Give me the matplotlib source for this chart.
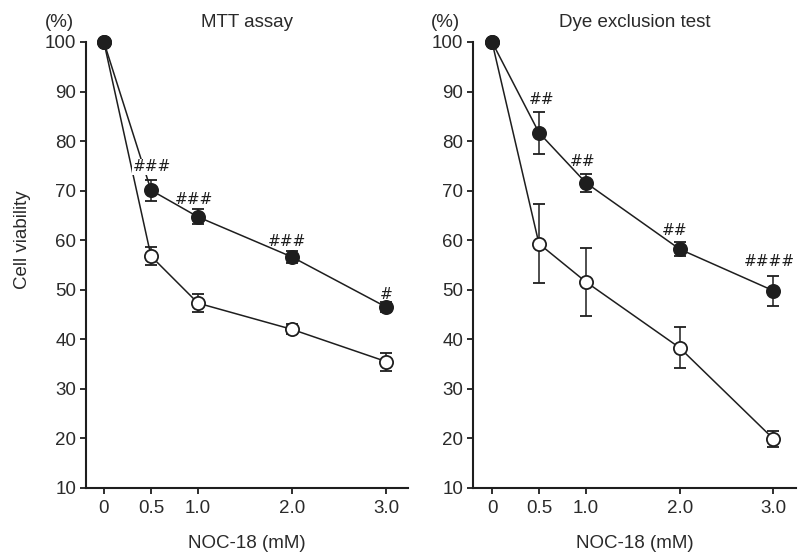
import matplotlib
matplotlib.use("Agg")
import matplotlib.pyplot as plt

plt.rcParams['font.family'] = ['Liberation Sans', 'DejaVu Sans']

# NOC-18 concentrations (mM)
conc = [0, 0.5, 1.0, 2.0, 3.0]
xtick_labels = ["0", "0.5", "1.0", "2.0", "3.0"]
yticks = [10, 20, 30, 40, 50, 60, 70, 80, 90, 100]

# MTT assay: cell viability (%) with error
mtt_filled = [100, 70.1, 64.7, 56.6, 46.5]
mtt_filled_err = [0, 2.1, 1.5, 1.2, 1.0]
mtt_open = [100, 56.8, 47.3, 42.0, 35.5]
mtt_open_err = [0, 1.8, 1.8, 1.0, 1.8]
mtt_marks = ["###", "###", "###", "#"]
mtt_mark_xy = [(0.51, 74.8), (0.96, 68.3), (1.95, 59.7), (3.0, 49.0)]

# Dye exclusion test: cell viability (%) with error
dye_filled = [100, 81.7, 71.6, 58.2, 49.8]
dye_filled_err = [0, 4.2, 1.8, 1.4, 3.0]
dye_open = [100, 59.3, 51.6, 38.3, 19.9]
dye_open_err = [0, 8.0, 6.9, 4.1, 1.7]
dye_marks = ["##", "##", "##", "####"]
dye_mark_xy = [(0.53, 88.3), (0.97, 75.9), (1.95, 62.0), (2.96, 55.7)]

ink = "#1e1e1e"
txt = "#2a2a2a"
fs = 13.5
fig = plt.figure(figsize=(7.98, 5.53), dpi=100)
ax1 = fig.add_axes([86/798, 1-488/553, 322/798, 446/553])
ax2 = fig.add_axes([473/798, 1-488/553, 323/798, 446/553])


def panel(ax, title, filled, ferr, opn, oerr, marks, mark_xy, xlim, cover_first):
    common = dict(color=ink, lw=1.1, capsize=4, elinewidth=1.1, capthick=1.1,
                  markersize=9.5, markeredgewidth=1.3, clip_on=False)
    ax.errorbar(conc, opn, yerr=oerr, marker='o', markerfacecolor='white',
                markeredgecolor=ink, zorder=3, **common)
    ax.errorbar(conc, filled, yerr=ferr, marker='o', markerfacecolor=ink,
                markeredgecolor=ink, zorder=4, **common)
    for i, (lab, (x, y)) in enumerate(zip(marks, mark_xy)):
        kw = {}
        if cover_first and i == 0:
            kw['bbox'] = dict(facecolor='white', edgecolor='none', pad=0.5)
        ax.text(x, y, lab, ha='center', va='center', fontsize=11,
                family=['DejaVu Sans'], style='italic', color=ink,
                zorder=5, **kw)
    ax.set_xlim(*xlim)
    ax.set_ylim(10, 100)
    ax.set_xticks(conc)
    ax.set_xticklabels(xtick_labels)
    ax.set_yticks(yticks)
    for s in ('top', 'right'):
        ax.spines[s].set_visible(False)
    for s in ('left', 'bottom'):
        ax.spines[s].set_linewidth(1.5)
        ax.spines[s].set_color(ink)
    ax.tick_params(direction='out', length=4.5, width=1.3, colors=ink,
                   labelsize=fs, labelcolor=txt)
    ax.tick_params(axis='x', pad=4)
    ax.tick_params(axis='y', pad=2.5)
    ax.set_xlabel("NOC-18 (mM)", fontsize=fs, color=txt)
    ax.xaxis.set_label_coords(0.5, -0.105)
    ax.text(0.5, 1.043, title, transform=ax.transAxes, ha='center',
            va='center', fontsize=fs, color=txt)
    ax.text(-0.084, 1.043, "(%)", transform=ax.transAxes, ha='center',
            va='center', fontsize=fs, color=txt)


panel(ax1, "MTT assay", mtt_filled, mtt_filled_err, mtt_open, mtt_open_err,
      mtt_marks, mtt_mark_xy, (-0.19, 3.23), True)
panel(ax2, "Dye exclusion test", dye_filled, dye_filled_err, dye_open,
      dye_open_err, dye_marks, dye_mark_xy, (-0.203, 3.24), False)

ax1.set_ylabel("Cell viability", fontsize=fs, color=txt, va='center')
ax1.yaxis.set_label_coords(-0.196, 0.556)

fig.savefig("out.png", dpi=100)
